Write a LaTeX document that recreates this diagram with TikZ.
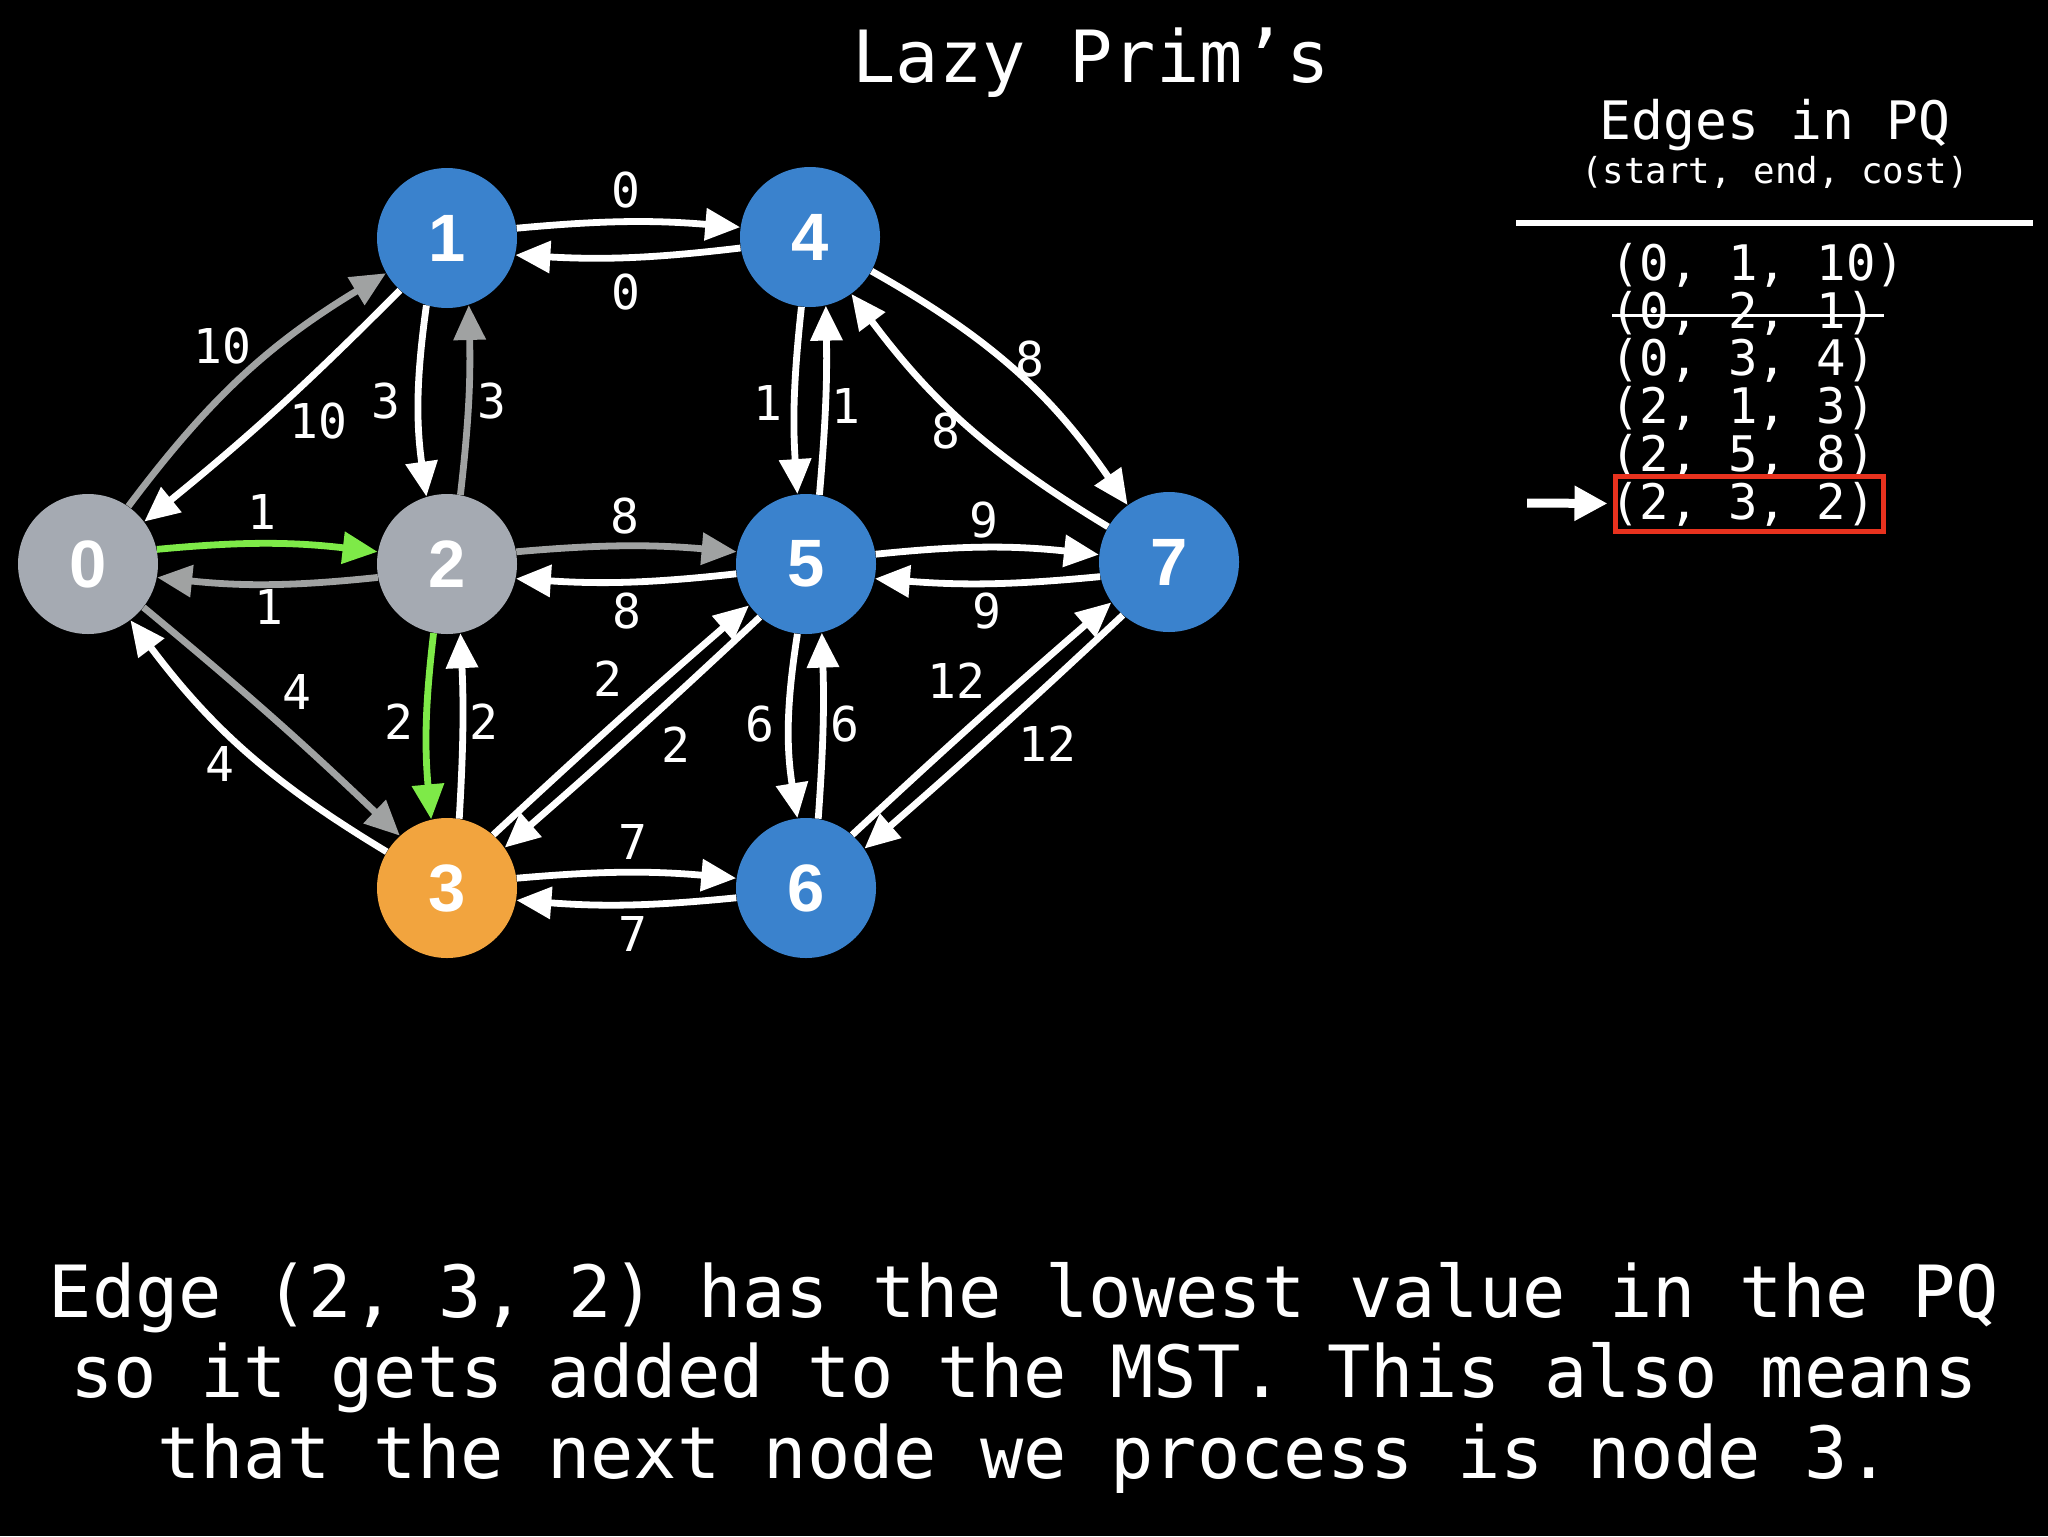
\documentclass[tikz,border=0pt]{standalone}
\usepackage{fontspec}
\setmonofont{DejaVu Sans Mono}
\newfontfamily\nodefnt{Liberation Sans}
\usetikzlibrary{arrows.meta}
\definecolor{nblue}{RGB}{58,130,205}
\definecolor{ngray}{RGB}{165,170,178}
\definecolor{norange}{RGB}{242,164,62}
\definecolor{egreen}{RGB}{126,234,72}
\definecolor{egray}{RGB}{160,162,162}
\definecolor{pqred}{RGB}{232,50,30}
\begin{document}
\begin{tikzpicture}[x=0.5pt,y=0.5pt,
  vtx/.style={circle,minimum size=70pt,inner sep=0pt,text=white,
    font=\nodefnt\bfseries\fontsize{33.5pt}{33.5pt}\selectfont},
  wedge/.style={draw=white,line width=3.4pt,-{Triangle[length=17.5pt,width=15.5pt]}},
  gedge/.style={wedge,draw=egray},
  grnedge/.style={wedge,draw=egreen},
  lab/.style={text=white,inner sep=0pt,font=\ttfamily\fontsize{24pt}{24pt}\selectfont},
  bigtxt/.style={text=white,inner sep=0pt,anchor=base,font=\ttfamily\fontsize{36pt}{40pt}\selectfont},
  pqtxt/.style={text=white,inner sep=0pt,anchor=base west,font=\ttfamily\fontsize{24.5pt}{24.5pt}\selectfont}
]
\fill[black] (0,0) rectangle (2048,-1536);
\useasboundingbox (0,0) rectangle (2048,-1536);

% vertices
\node[vtx,fill=ngray]   (n0) at (88,-564)  {0};
\node[vtx,fill=nblue]   (n1) at (447,-238) {1};
\node[vtx,fill=ngray]   (n2) at (447,-564) {2};
\node[vtx,fill=norange] (n3) at (447,-888) {3};
\node[vtx,fill=nblue]   (n4) at (810,-237) {4};
\node[vtx,fill=nblue]   (n5) at (806,-564) {5};
\node[vtx,fill=nblue]   (n6) at (806,-888) {6};
\node[vtx,fill=nblue]   (n7) at (1169,-562) {7};

% edges
\draw[gedge]   (n0.55)  to[bend left=11] (n1.210);
\draw[wedge]   (n1.228) to[bend left=3]  (n0.37);
\draw[grnedge] (n0.12)  to[bend left=6]  (n2.170);
\draw[gedge]   (n2.191) to[bend left=6]  (n0.349);
\draw[gedge]   (n0.322) to[bend left=2]  (n3.132);
\draw[wedge]   (n3.149) to[bend left=11] (n0.307);
\draw[wedge]   (n1.253) to[bend right=8] (n2.107);
\draw[gedge]   (n2.79)  to[bend right=4] (n1.288);
\draw[grnedge] (n2.259) to[bend right=6] (n3.103);
\draw[wedge]   (n3.80)  to[bend right=3] (n2.281);
\draw[wedge]   (n1.8)   to[bend left=5]  (n4.172);
\draw[wedge]   (n4.189) to[bend left=5]  (n1.346);
\draw[gedge]   (n2.10)  to[bend left=5]  (n5.170);
\draw[wedge]   (n5.188) to[bend left=5]  (n2.348);
\draw[wedge]   (n3.49)  to[bend left=1]  (n5.216);
\draw[wedge]   (n5.229) to[bend left=1]  (n3.35);
\draw[wedge]   (n3.8)   to[bend left=5]  (n6.172);
\draw[wedge]   (n6.188) to[bend left=5]  (n3.350);
\draw[wedge]   (n4.263) to[bend right=5] (n5.97);
\draw[wedge]   (n5.79)  to[bend right=3] (n4.283);
\draw[wedge]   (n4.331) to[bend left=13] (n7.126);
\draw[wedge]   (n7.150) to[bend left=11] (n4.306);
\draw[wedge]   (n5.8)   to[bend left=6]  (n7.174);
\draw[wedge]   (n7.192) to[bend left=5]  (n5.348);
\draw[wedge]   (n5.263) to[bend right=9] (n6.97);
\draw[wedge]   (n6.80)  to[bend right=3] (n5.283);
\draw[wedge]   (n6.49)  to[bend left=1]  (n7.215);
\draw[wedge]   (n7.229) to[bend left=1]  (n6.34);

% edge labels
\node[lab] (l01) at (222,-346) {10};
\node[lab] (l10) at (318,-421) {10};
\node[lab] (l12) at (386,-401) {3};
\node[lab] (l21) at (492,-401) {3};
\node[lab] (l02) at (262,-512) {1};
\node[lab] (l20) at (269,-607) {1};
\node[lab] (l14) at (626,-190) {0};
\node[lab] (l41) at (626,-292) {0};
\node[lab] (l25) at (625,-516) {8};
\node[lab] (l52) at (627,-611) {8};
\node[lab] (l03) at (297,-692) {4};
\node[lab] (l30) at (220,-764) {4};
\node[lab] (l23) at (399,-722) {2};
\node[lab] (l32) at (484,-722) {2};
\node[lab] (l35) at (608,-679) {2};
\node[lab] (l53) at (676,-745) {2};
\node[lab] (l36) at (633,-842) {7};
\node[lab] (l63) at (633,-934) {7};
\node[lab] (l45) at (768,-403) {1};
\node[lab] (l54) at (846,-406) {1};
\node[lab] (l47) at (1030,-359) {8};
\node[lab] (l74) at (946,-431) {8};
\node[lab] (l57) at (984,-520) {9};
\node[lab] (l75) at (987,-611) {9};
\node[lab] (l56) at (760,-724) {6};
\node[lab] (l65) at (845,-724) {6};
\node[lab] (l67) at (956,-681) {12};
\node[lab] (l76) at (1047,-744) {12};

% title
\node[bigtxt] (title) at (1091,-83) {Lazy Prim’s};

% PQ panel
\node[text=white,inner sep=0pt,anchor=base,font=\ttfamily\fontsize{26.5pt}{26.5pt}\selectfont] (hdr) at (1775,-140) {Edges in PQ};
\node[text=white,inner sep=0pt,anchor=base,font=\ttfamily\fontsize{17.9pt}{17.9pt}\selectfont] (sub) at (1775,-183) {(start, end, cost)};
\coordinate (ruleL) at (1516,-223);
\coordinate (ruleR) at (2033,-223);
\draw[white,line width=3pt] (ruleL) -- (ruleR);

\node[pqtxt] (q1) at (1610,-280) {(0, 1, 10)};
\node[pqtxt] (q2) at (1610,-328) {(0, 2, 1)};
\node[pqtxt] (q3) at (1610,-375) {(0, 3, 4)};
\node[pqtxt] (q4) at (1610,-423) {(2, 1, 3)};
\node[pqtxt] (q5) at (1610,-471) {(2, 5, 8)};
\node[pqtxt] (q6) at (1610,-519) {(2, 3, 2)};
\coordinate (stkL) at (1612,-315);
\coordinate (stkR) at (1884,-315);
\draw[white,line width=1.5pt] (stkL) -- (stkR);

\node[draw=pqred,line width=2.5pt,minimum width=134pt,minimum height=27.5pt,inner sep=0pt] (box) at (1749,-503.5) {};
\coordinate (pqs) at (1527,-503);
\draw[white,line width=4.5pt,-{Triangle[length=16.5pt,width=16.5pt]},shorten >=2.5pt] (pqs) -- (box.west);

% bottom text
\node[bigtxt] (t1) at (1024,-1317) {Edge (2, 3, 2) has the lowest value in the PQ};
\node[bigtxt] (t2) at (1024,-1397) {so it gets added to the MST. This also means};
\node[bigtxt] (t3) at (1024,-1478) {that the next node we process is node 3.};
\end{tikzpicture}
\end{document}
